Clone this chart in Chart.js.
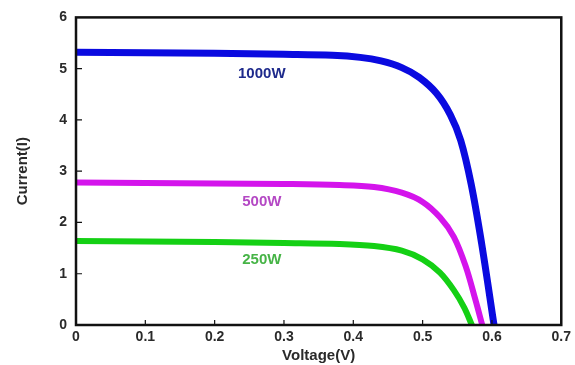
<!DOCTYPE html>
<html>
<head>
<meta charset="utf-8">
<script src="https://cdn.jsdelivr.net/npm/chart.js@4/dist/chart.umd.min.js"></script>
<style>
  body { margin: 0; background: #fff; }
  #wrap { width: 575px; height: 365px; }
</style>
</head>
<body>
<div id="wrap"><canvas id="iv-chart"></canvas></div>
<script>
// I-V curves
var v1000 = [0, 0.1, 0.2, 0.3, 0.37, 0.41, 0.44, 0.47, 0.495, 0.52, 0.54, 0.555, 0.57, 0.585, 0.603];
var i1000 = [5.32, 5.31, 5.30, 5.28, 5.26, 5.22, 5.15, 5.02, 4.83, 4.52, 4.1, 3.6, 2.75, 1.6, 0];

var v500 = [0, 0.1, 0.2, 0.3, 0.38, 0.43, 0.47, 0.5, 0.525, 0.545, 0.562, 0.576, 0.586];
var i500 = [2.78, 2.77, 2.76, 2.75, 2.73, 2.69, 2.58, 2.4, 2.1, 1.72, 1.15, 0.5, 0];

var v250 = [0, 0.1, 0.2, 0.3, 0.38, 0.43, 0.47, 0.5, 0.525, 0.545, 0.56, 0.571];
var i250 = [1.64, 1.63, 1.62, 1.6, 1.58, 1.54, 1.45, 1.28, 1.02, 0.68, 0.34, 0];

var seriesNames = ["1000W", "500W", "250W"];
var labelV = [0.268, 0.268, 0.268];
var labelI = [4.9, 2.4, 1.27];

var xTicks = [0, 0.1, 0.2, 0.3, 0.4, 0.5, 0.6, 0.7];
var yTicks = [0, 1, 2, 3, 4, 5, 6];

function pts(xs, ys) {
  var out = [];
  for (var i = 0; i < xs.length; i++) out.push({ x: xs[i], y: ys[i] });
  return out;
}

var lineColors = ["#0a0ae0", "#d414ec", "#14d014"];
var textColors = ["#1e2a8c", "#b448c4", "#46b446"];
var widths = [7, 6, 6];

// box round the plot, inner tick marks and the curve labels
var boxPlugin = {
  id: "box",
  afterDraw: function (chart) {
    var ctx = chart.ctx, a = chart.chartArea;
    var xs = chart.scales.x, ys = chart.scales.y;
    ctx.save();
    ctx.strokeStyle = "#111";
    ctx.lineWidth = 1.2;
    ctx.beginPath();
    yTicks.forEach(function (t) {
      if (t === 0 || t === 6) return;
      var py = ys.getPixelForValue(t);
      ctx.moveTo(a.left, py); ctx.lineTo(a.left + 6, py);
    });
    xTicks.forEach(function (t) {
      if (t === 0 || t === 0.7) return;
      var px = xs.getPixelForValue(t);
      ctx.moveTo(px, a.bottom); ctx.lineTo(px, a.bottom - 5);
    });
    ctx.stroke();
    ctx.lineWidth = 2.5;
    ctx.strokeRect(a.left, a.top, a.right - a.left, a.bottom - a.top);

    ctx.font = "bold 15px 'Liberation Sans', Arial, sans-serif";
    ctx.textAlign = "center";
    ctx.textBaseline = "middle";
    for (var k = 0; k < seriesNames.length; k++) {
      ctx.fillStyle = textColors[k];
      ctx.fillText(seriesNames[k], xs.getPixelForValue(labelV[k]), ys.getPixelForValue(labelI[k]));
    }
    ctx.restore();
  }
};

var tickFont = { family: "'Liberation Sans', Arial, sans-serif", size: 14, weight: "bold" };

new Chart(document.getElementById("iv-chart"), {
  type: "line",
  data: {
    datasets: [
      { label: seriesNames[0], data: pts(v1000, i1000) },
      { label: seriesNames[1], data: pts(v500, i500) },
      { label: seriesNames[2], data: pts(v250, i250) }
    ].map(function (d, k) {
      d.borderColor = lineColors[k];
      d.borderWidth = widths[k];
      d.pointRadius = 0;
      d.fill = false;
      d.tension = 0.35;
      d.borderCapStyle = "round";
      d.borderJoinStyle = "round";
      return d;
    })
  },
  options: {
    responsive: true,
    maintainAspectRatio: false,
    animation: false,
    layout: { padding: { left: 0, right: 10, top: 13, bottom: 0 } },
    plugins: { legend: { display: false }, tooltip: { enabled: false } },
    scales: {
      x: {
        type: "linear",
        min: 0, max: 0.7,
        afterBuildTicks: function (s) { s.ticks = xTicks.map(function (v) { return { value: v }; }); },
        afterFit: function (s) { s.height = 40; },
        grid: { display: false, drawTicks: false },
        border: { display: false },
        ticks: { color: "#2a2a2a", font: tickFont, padding: 4, maxRotation: 0, autoSkip: false,
                 callback: function (v) { return v === 0 ? "0" : String(+v.toFixed(1)); } },
        title: { display: true, text: "Voltage(V)", color: "#2a2a2a",
                 font: { family: "'Liberation Sans', Arial, sans-serif", size: 15, weight: "bold" },
                 padding: { top: 0, bottom: 0 } }
      },
      y: {
        min: 0, max: 6,
        afterBuildTicks: function (s) { s.ticks = yTicks.map(function (v) { return { value: v }; }); },
        afterFit: function (s) { s.width = 76; },
        grid: { display: false, drawTicks: false },
        border: { display: false },
        ticks: { color: "#2a2a2a", font: tickFont, padding: 9 },
        title: { display: true, text: "Current(I)", color: "#2a2a2a",
                 font: { family: "'Liberation Sans', Arial, sans-serif", size: 15, weight: "bold" },
                 padding: { top: 14, bottom: 0 } }
      }
    }
  },
  plugins: [boxPlugin]
});
</script>
</body>
</html>
